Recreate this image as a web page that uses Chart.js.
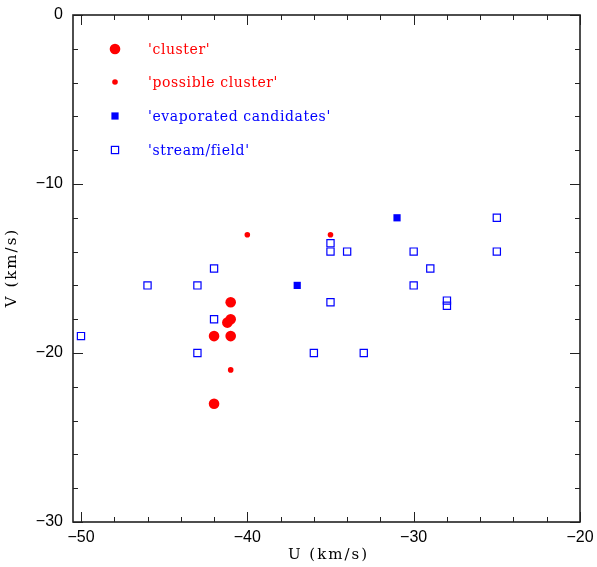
<!DOCTYPE html>
<html>
<head>
<meta charset="utf-8">
<script src="https://cdn.jsdelivr.net/npm/chart.js@4.4.1/dist/chart.umd.min.js"></script>
<style>
  html, body { margin: 0; padding: 0; background: #fff; }
</style>
</head>
<body>
<canvas id="myChart" width="597" height="567"></canvas>
<script>
// U, V velocities (km/s)
const cluster_u = [-41, -41, -41.2, -42, -41, -42];
const cluster_v = [-17, -18, -18.2, -19, -19, -23];
const possible_u = [-40, -35, -41];
const possible_v = [-13, -13, -21];
const evaporated_u = [-37, -31];
const evaporated_v = [-16, -12];
const stream_u = [-50, -46, -43, -42, -42, -43, -35, -35, -34, -35, -36, -33, -25, -30, -29, -30, -28, -28, -25];
const stream_v = [-19, -16, -16, -15, -18, -20, -13.5, -14, -14, -17, -20, -20, -12, -14, -15, -16, -16.9, -17.2, -14];

const x_ticks = [-50, -40, -30, -20];
const y_ticks = [0, -10, -20, -30];
const legend_labels = ["'cluster'", "'possible cluster'", "'evaporated candidates'", "'stream/field'"];
const x_title = "U (km/s)";
const y_title = "V (km/s)";

const RED = "#ff0000";
const BLUE = "#0000ff";
const SERIF = "'DejaVu Serif', serif";

const toPoints = (us, vs) => us.map((u, i) => ({x: u, y: vs[i]}));
const minus = (v) => String(v).replace("-", "\u2212");

// frame with inward ticks on all four sides, axis titles and the legend
const framePlugin = {
    id: "frame",
    afterDatasetsDraw(chart) {
        const ctx = chart.ctx;
        const a = chart.chartArea;
        const xs = chart.scales.x, ys = chart.scales.y;
        ctx.save();
        ctx.strokeStyle = "#222";
        ctx.lineWidth = 1;
        ctx.beginPath();
        for (let u = -50; u <= -20; u += 2) {
            const px = Math.round(xs.getPixelForValue(u)) + 0.5;
            const len = (u % 10 === 0) ? 10 : 5;
            ctx.moveTo(px, a.bottom); ctx.lineTo(px, a.bottom - len);
            ctx.moveTo(px, a.top); ctx.lineTo(px, a.top + len);
        }
        for (let v = -30; v <= 0; v += 2) {
            const py = Math.round(ys.getPixelForValue(v)) + 0.5;
            const len = (v % 10 === 0) ? 10 : 5;
            ctx.moveTo(a.left, py); ctx.lineTo(a.left + len, py);
            ctx.moveTo(a.right, py); ctx.lineTo(a.right - len, py);
        }
        ctx.stroke();
        ctx.lineWidth = 1.6;
        ctx.strokeRect(a.left, a.top, a.right - a.left, a.bottom - a.top);

        // axis titles
        ctx.fillStyle = "#000";
        ctx.font = "15px " + SERIF;
        ctx.letterSpacing = "2px";
        ctx.textAlign = "center";
        ctx.textBaseline = "middle";
        ctx.fillText(x_title, (a.left + a.right) / 2 + 2, 555);
        ctx.save();
        ctx.translate(12, (a.top + a.bottom) / 2);
        ctx.rotate(-Math.PI / 2);
        ctx.fillText(y_title, 1, 0);
        ctx.restore();

        // legend
        const rows = [49, 82, 116, 150];
        const mx = 115, tx = 148;
        ctx.fillStyle = RED;
        ctx.beginPath(); ctx.arc(mx, rows[0], 5.3, 0, Math.PI * 2); ctx.fill();
        ctx.beginPath(); ctx.arc(mx, rows[1], 2.8, 0, Math.PI * 2); ctx.fill();
        ctx.fillStyle = BLUE;
        ctx.fillRect(mx - 3.6, rows[2] - 3.6, 7.2, 7.2);
        ctx.strokeStyle = BLUE;
        ctx.lineWidth = 1.2;
        ctx.strokeRect(mx - 3.6, rows[3] - 3.6, 7.2, 7.2);

        ctx.font = "14px " + SERIF;
        ctx.letterSpacing = "0.6px";
        ctx.textAlign = "left";
        legend_labels.forEach((t, i) => {
            ctx.fillStyle = i < 2 ? RED : BLUE;
            ctx.fillText(t, tx, rows[i] + 1);
        });
        ctx.restore();
    }
};

const ctx = document.getElementById("myChart").getContext("2d");
const myChart = new Chart(ctx, {
    type: "scatter",
    data: {
        datasets: [
            {label: "cluster", data: toPoints(cluster_u, cluster_v), pointStyle: "circle",
             pointRadius: 5.3, backgroundColor: RED, borderWidth: 0},
            {label: "possible cluster", data: toPoints(possible_u, possible_v), pointStyle: "circle",
             pointRadius: 2.8, backgroundColor: RED, borderWidth: 0},
            {label: "evaporated candidates", data: toPoints(evaporated_u, evaporated_v), pointStyle: "rect",
             pointRadius: 5.1, backgroundColor: BLUE, borderWidth: 0},
            {label: "stream/field", data: toPoints(stream_u, stream_v), pointStyle: "rect",
             pointRadius: 5.1, backgroundColor: "rgba(0,0,0,0)", borderColor: BLUE, borderWidth: 1.2}
        ]
    },
    options: {
        responsive: false,
        animation: false,
        layout: {padding: {top: 15, right: 17, left: 0, bottom: 0}},
        plugins: {legend: {display: false}, tooltip: {enabled: false}},
        scales: {
            x: {
                type: "linear",
                min: -50.48, max: -20,
                afterBuildTicks: (s) => { s.ticks = x_ticks.map(v => ({value: v})); },
                afterFit: (s) => { s.height = 45; s.paddingLeft = 0; s.paddingRight = 0; },
                grid: {display: false, drawTicks: false},
                border: {display: false},
                ticks: {color: "#000", padding: 6, maxRotation: 0, autoSkip: false,
                        font: {family: "'Liberation Sans', sans-serif", size: 16},
                        callback: (v) => minus(v)}
            },
            y: {
                type: "linear",
                min: -30, max: 0,
                afterBuildTicks: (s) => { s.ticks = y_ticks.map(v => ({value: v})); },
                afterFit: (s) => { s.width = 73; s.paddingTop = 0; s.paddingBottom = 0; },
                grid: {display: false, drawTicks: false},
                border: {display: false},
                ticks: {color: "#000", padding: 10, autoSkip: false,
                        font: {family: "'Liberation Sans', sans-serif", size: 16},
                        callback: (v) => minus(v)}
            }
        }
    },
    plugins: [framePlugin]
});
</script>
</body>
</html>
